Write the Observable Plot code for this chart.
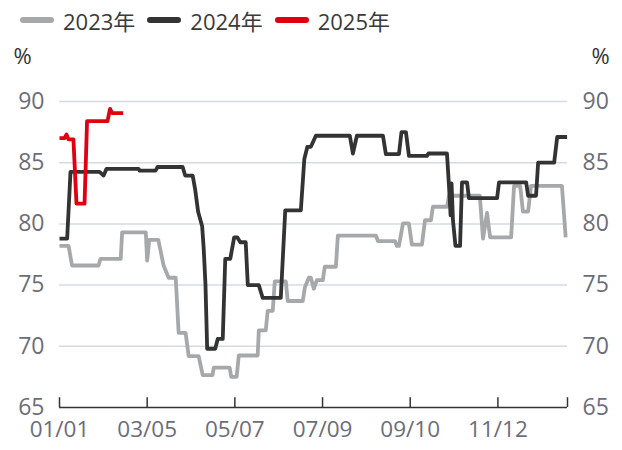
<!DOCTYPE html>
<html>
<head>
<meta charset="utf-8">
<script src="https://cdn.jsdelivr.net/npm/d3@7"></script>
<script src="https://cdn.jsdelivr.net/npm/@observablehq/plot@0.6"></script>
<style>
  body { margin: 0; background: #fff; font-family: "Open Sans", "Noto Sans CJK SC", sans-serif; }
  #wrap { position: relative; width: 622px; height: 450px; }
  #legend { position: absolute; left: 20px; top: 4px; display: flex; align-items: center; font-size: 22px; color: #3a3a3a; }
  .item { display: flex; align-items: center; margin-right: 12px; }
  .sw { width: 34px; height: 6px; border-radius: 3px; margin-right: 9px; }
</style>
</head>
<body>
<div id="wrap">
  <div id="chart"></div>
  <div id="legend"></div>
</div>
<script>
// ---- data (day of year offset from 01/01, value in %) ----
const seriesNames = ["2023年", "2024年", "2025年"];
const seriesColors = ["#a6a8aa", "#333333", "#e0000f"];

const days2023 = [0,6.5,9,28,29.5,44,45,62,63,64.5,71,74.8,78.4,83.5,85.6,90.6,92.8,100,102.9,110,110.8,122.3,123.4,127.3,128.8,142.4,143.2,148.2,149.6,153.2,154.7,162.6,164,174.8,176.3,179.1,180.6,182.7,184.9,189.2,190.6,198.6,200,227.3,228.8,241,242.4,243.9,246.8,251,253.2,260.4,262.6,266.9,268.3,278.4,279.9,302,304.3,307.2,309.4,324.5,326.6,331,333,336.7,338.8,361,363.7];
const vals2023 = [78.2,78.2,76.6,76.6,77.15,77.15,79.3,79.3,77.0,78.7,78.7,76.6,75.6,75.6,71.1,71.1,69.2,69.2,67.65,67.65,68.25,68.25,67.5,67.5,69.25,69.25,71.3,71.3,72.9,72.9,75.3,75.3,73.7,73.7,74.8,75.6,75.6,74.7,75.4,75.4,76.5,76.5,79.05,79.05,78.6,78.6,78.2,78.2,80.05,80.05,78.3,78.3,80.3,80.3,81.4,81.4,82.3,82.3,78.8,80.9,78.9,78.9,83.1,83.1,81.0,81.0,83.1,83.1,78.9];

const days2024 = [0,5.5,7.9,28.8,31.7,33.8,56.8,57.6,69,70.5,88.5,90.3,95.7,97.5,99.6,102.5,103.6,104.9,106.1,111.9,113.7,117.3,119.1,122.7,125.5,127.7,129.9,133.8,135.3,143.2,146,159,162.2,173.4,175.9,178.1,180.6,184.2,208.6,210.8,213.7,232.4,234.5,243.9,245.7,248.9,251.1,264,265.1,278.4,279.9,281,281.7,282.7,284.5,287.8,289.2,292.8,294.2,314.4,315.8,335.3,336.7,342.4,343.9,355.4,357.6,364.7];
const vals2024 = [78.8,78.8,84.25,84.25,83.95,84.5,84.5,84.35,84.35,84.65,84.65,83.95,83.95,82.8,81.0,79.8,78.0,75.0,69.8,69.8,70.6,70.6,77.15,77.15,78.9,78.9,78.5,78.5,75.0,75.0,73.95,73.95,81.1,81.1,85.3,86.3,86.3,87.2,87.2,85.75,87.2,87.2,85.7,85.7,87.5,87.5,85.55,85.55,85.75,85.75,83.0,80.7,83.3,80.3,78.2,78.2,83.4,83.4,82.1,82.1,83.4,83.4,82.3,82.3,85.0,85.0,87.1,87.1];

const days2025 = [0,3.6,5,6.5,10,12.2,18,19.8,34.5,36.3,37.8,45.7];
const vals2025 = [87.0,87.0,87.3,86.9,86.9,81.65,81.65,88.4,88.4,89.4,89.05,89.05];

const xTickLabels = ["01/01","03/05","05/07","07/09","09/10","11/12"];
const yTicks = [65,70,75,80,85,90];

// ---- build ----
const base = Date.UTC(2023, 0, 1);
const toDate = d => new Date(base + d * 86400000);
const parseLabel = s => { const [m, d] = s.split("/").map(Number); return new Date(Date.UTC(2023, m - 1, d)); };
const tickDates = xTickLabels.map(parseLabel);
const endDate = new Date(Date.UTC(2024, 0, 1));
const fmt = d3.utcFormat("%m/%d");

const mk = (days, vals, name) => days.map((d, i) => ({date: toDate(d), value: vals[i], series: name}));
const data = [
  ...mk(days2023, vals2023, seriesNames[0]),
  ...mk(days2024, vals2024, seriesNames[1]),
  ...mk(days2025, vals2025, seriesNames[2])
];

const labelColor = "#6b6d7a";
const font = "'Open Sans', 'Noto Sans CJK SC', sans-serif";

const chart = Plot.plot({
  width: 622,
  height: 450,
  marginTop: 101,
  marginBottom: 43,
  marginLeft: 59,
  marginRight: 55,
  style: {fontFamily: font, background: "transparent"},
  x: {type: "utc", domain: [new Date(base), endDate]},
  y: {domain: [65, 90]},
  color: {domain: seriesNames, range: seriesColors},
  marks: [
    Plot.ruleY(yTicks.filter(v => v > 65), {stroke: "#d5dae6", strokeWidth: 1.5}),
    Plot.ruleY([65], {stroke: "#333", strokeWidth: 1.5}),
    Plot.ruleX([...tickDates, endDate], {y1: 65, y2: 65.8, stroke: "#333", strokeWidth: 1.5}),
    Plot.axisX({ticks: tickDates, tickSize: 0, tickPadding: 14, tickFormat: fmt, fontSize: 22.5, color: labelColor, label: null}),
    Plot.axisY({anchor: "left", ticks: yTicks, tickSize: 0, tickPadding: 15, fontSize: 23, color: labelColor, label: null}),
    Plot.axisY({anchor: "right", ticks: yTicks, tickSize: 0, tickPadding: 15, fontSize: 23, color: labelColor, label: null}),
    Plot.text(["%"], {frameAnchor: "top-left", textAnchor: "middle", lineAnchor: "middle", dx: -37, dy: -45, fontSize: 22, fill: "#333"}),
    Plot.text(["%"], {frameAnchor: "top-right", textAnchor: "middle", lineAnchor: "middle", dx: 33, dy: -45, fontSize: 22, fill: "#333"}),
    Plot.line(data, {x: "date", y: "value", z: "series", stroke: "series", strokeWidth: 3.8, strokeLinejoin: "round", strokeLinecap: "butt"})
  ]
});
document.getElementById("chart").appendChild(chart);

const legend = document.getElementById("legend");
seriesNames.forEach((n, i) => {
  const it = document.createElement("div");
  it.className = "item";
  it.innerHTML = `<span class="sw" style="background:${seriesColors[i]}"></span><span>${n}</span>`;
  legend.appendChild(it);
});
</script>
</body>
</html>
